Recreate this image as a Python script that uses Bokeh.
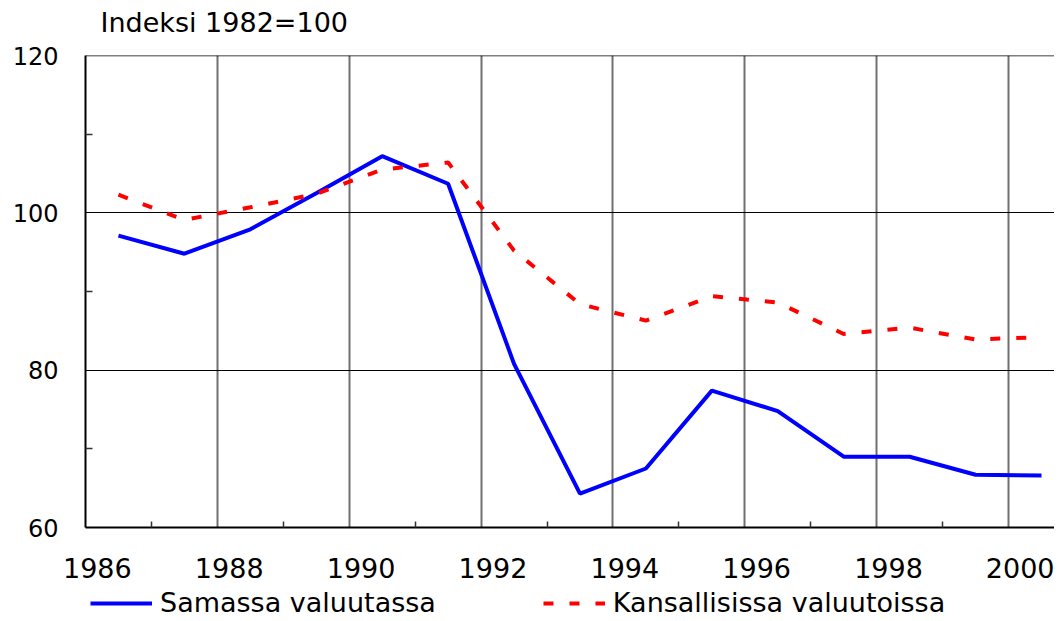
from bokeh.plotting import figure
from bokeh.layouts import column
from bokeh.models import (Range1d, FixedTicker, CustomJSTickFormatter, Legend,
                          LegendItem, Span, Label)
from bokeh.embed import file_html
from bokeh.resources import INLINE

# ---- data ----
years = [1986.5, 1987.5, 1988.5, 1989.5, 1990.5, 1991.5, 1992.5, 1993.5,
         1994.5, 1995.5, 1996.5, 1997.5, 1998.5, 1999.5, 2000.5]
samassa = [97.1, 94.8, 97.9, 102.5, 107.2, 103.7, 80.8, 64.3,
           67.5, 77.4, 74.8, 69.0, 69.0, 66.7, 66.6]
kansallisissa = [102.3, 99.1, 100.7, 102.4, 105.5, 106.4, 95.2, 88.4,
                 86.3, 89.4, 88.6, 84.6, 85.4, 83.9, 84.2]
x_tick_years = [1986, 1988, 1990, 1992, 1994, 1996, 1998, 2000]
x_minor_years = [1987, 1989, 1991, 1993, 1995, 1997, 1999]
y_ticks = [60, 80, 100, 120]
y_minor = [70, 90, 110]
subtitle = "Indeksi 1982=100"
series_names = ["Samassa valuutassa", "Kansallisissa valuutoissa"]

FONT = "DejaVu Sans"
LABEL_SHIFT = 0.18  # tick labels sit slightly right of their gridlines
BLUE, RED = "#0000FF", "#FF0000"


def strip(height):
    s = figure(width=1054, height=height, output_backend="svg", toolbar_location=None,
               x_range=Range1d(0, 1), y_range=Range1d(0, 1),
               x_axis_type=None, y_axis_type=None,
               min_border_left=0, min_border_right=0, min_border_top=0,
               min_border_bottom=0)
    s.outline_line_color = None
    s.grid.visible = False
    s.border_fill_color = "white"
    s.background_fill_color = "white"
    return s


# ---- title strip ----
p0 = strip(40)
p0.add_layout(Label(x=15, y=18, x_units="screen", y_units="screen", text=subtitle,
                    text_baseline="middle", text_align="left", text_font=FONT,
                    text_font_size="27px", text_color="black"))

# ---- main chart ----
p = figure(width=1054, height=548, output_backend="svg", toolbar_location=None,
           x_range=Range1d(1986, 2000.697), y_range=Range1d(60, 120),
           min_border_left=85, min_border_right=0, min_border_top=15,
           min_border_bottom=61)
p.outline_line_color = None
p.background_fill_color = "white"
p.border_fill_color = "white"

# x axis
p.xaxis.ticker = FixedTicker(ticks=[y + LABEL_SHIFT for y in x_tick_years],
                             minor_ticks=x_minor_years)
p.xaxis.formatter = CustomJSTickFormatter(code="return Math.round(tick - 0.18).toString();")
p.xaxis.major_tick_in = 0
p.xaxis.major_tick_out = 0
p.xaxis.minor_tick_in = 6
p.xaxis.minor_tick_out = 0
p.xaxis.minor_tick_line_color = "#333333"
p.xaxis.minor_tick_line_width = 1.5
p.xaxis.axis_line_color = "black"
p.xaxis.axis_line_width = 2
p.xaxis.major_label_text_font = FONT
p.xaxis.major_label_text_font_size = "27px"
p.xaxis.major_label_text_color = "black"
p.xaxis.major_label_text_line_height = 1.0
p.xaxis.major_label_standoff = 30

# y axis
p.yaxis.ticker = FixedTicker(ticks=y_ticks, minor_ticks=y_minor)
p.yaxis.major_tick_in = 0
p.yaxis.major_tick_out = 0
p.yaxis.minor_tick_in = 7
p.yaxis.minor_tick_out = 0
p.yaxis.minor_tick_line_color = "#333333"
p.yaxis.minor_tick_line_width = 1.5
p.yaxis.axis_line_color = "black"
p.yaxis.axis_line_width = 2
p.yaxis.major_label_text_font = FONT
p.yaxis.major_label_text_font_size = "24px"
p.yaxis.major_label_text_color = "black"
p.yaxis.major_label_standoff = 27

# grids
p.xgrid.ticker = FixedTicker(ticks=x_tick_years[1:])
p.xgrid.grid_line_color = "#707070"
p.xgrid.grid_line_width = 2
p.ygrid.ticker = FixedTicker(ticks=[80, 100])
p.ygrid.grid_line_color = "black"
p.ygrid.grid_line_width = 1
p.add_layout(Span(location=120, dimension="width", line_color="black", line_width=1.5))

# lines
p.line(years, samassa, line_color=BLUE, line_width=4)
p.line(years, kansallisissa, line_color=RED, line_width=4, line_dash="10 16")

# ---- legend strip ----
p2 = strip(25)
# off-screen stand-in renderers that only supply the legend swatches
l_blue = p2.line(x=[-2, -1], y=[-2, -2], line_color=BLUE, line_width=4)
l_red = p2.line(x=[-2, -1], y=[-2, -2], line_color=RED, line_width=4, line_dash="10 16")
legend = Legend(items=[LegendItem(label=series_names[0], renderers=[l_blue]),
                       LegendItem(label=series_names[1], renderers=[l_red])],
                location=(5, -5), orientation="horizontal", border_line_color=None,
                background_fill_alpha=0, padding=0, margin=0, spacing=107,
                glyph_width=62, glyph_height=20, label_height=20, label_standoff=8,
                label_text_font=FONT, label_text_font_size="27px",
                label_text_line_height=1.0,
                label_text_color="black", label_text_baseline="middle")
p2.add_layout(legend, "center")

layout = column(p0, p, p2, spacing=0)
open("out.html", "w").write(file_html(layout, INLINE))
